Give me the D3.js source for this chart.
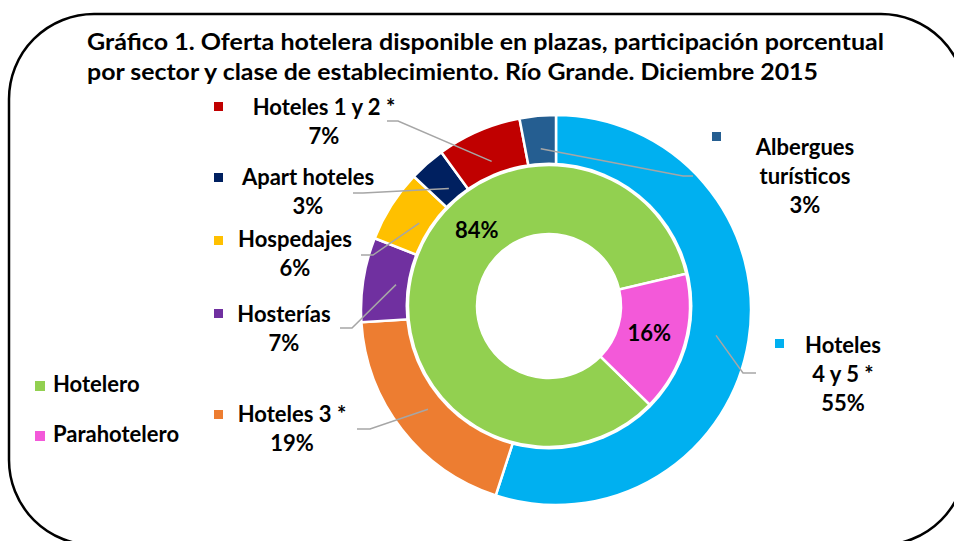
<!DOCTYPE html>
<html>
<head>
<meta charset="utf-8">
<script src="https://cdn.jsdelivr.net/npm/d3@7"></script>
<style>
  body { margin: 0; background: #fff; }
  svg { display: block; font-family: "Lato", "Carlito", "Calibri", sans-serif; font-weight: bold; }
</style>
</head>
<body>
<div id="chart"></div>
<script>
const titleLines = [
  "Gráfico 1. Oferta hotelera disponible en plazas, participación porcentual",
  "por sector y clase de establecimiento. Río Grande. Diciembre 2015"
];

// outer ring: clase de establecimiento
const outerCats = ["Hoteles 4 y 5 *", "Hoteles 3 *", "Hosterías", "Hospedajes", "Apart hoteles", "Hoteles 1 y 2 *", "Albergues turísticos"];
const outerValues = [55, 19, 7, 6, 3, 7, 3];
const outerLabelLines = [["Hoteles", "4 y 5 *"], ["Hoteles 3 *"], ["Hosterías"], ["Hospedajes"], ["Apart hoteles"], ["Hoteles 1 y 2 *"], ["Albergues", "turísticos"]];
const outerColors = ["#00b0f0", "#ed7d31", "#7030a0", "#ffc000", "#002060", "#c00000", "#255e91"];

// inner ring: sector
const innerCats = ["Hotelero", "Parahotelero"];
const innerValues = [84, 16];
const innerColors = ["#92d050", "#f359d9"];

const width = 954, height = 541;
const outerCenter = { x: 556, y: 310 };
const innerCenter = { x: 549, y: 306 };
const rOuter = 195, rInnerOut = 141, rHole = 72;
const deg = Math.PI / 180;

// callout layout (marker, text centre, leader line end / elbow)
const callouts = [
  { mx: 775, my: 339, cx: 843, y0: 353, ex: 756, ey: 373, kx: 743 },
  { mx: 214, my: 410, cx: 292, y0: 422, ex: 357, ey: 429, kx: 370 },
  { mx: 214, my: 309, cx: 284, y0: 322, ex: 340, ey: 328, kx: 352 },
  { mx: 214, my: 236, cx: 295, y0: 247, ex: 361, ey: 255, kx: 373 },
  { mx: 214, my: 173, cx: 308, y0: 185, ex: 353, ey: 193, kx: 363 },
  { mx: 214, my: 102, cx: 324, y0: 115, ex: 387, ey: 121, kx: 398 },
  { mx: 712, my: 132, cx: 805, y0: 155, ex: 693, ey: 176, kx: 683 }
];
const lineH = 29;
const labelSize = "22px";

const svg = d3.select("#chart").append("svg")
  .attr("width", width)
  .attr("height", height);

// rounded frame, runs off the right and bottom edge
svg.append("rect")
  .attr("x", 9).attr("y", 14)
  .attr("width", 957).attr("height", 531)
  .attr("rx", 85).attr("ry", 85)
  .attr("fill", "#fff")
  .attr("stroke", "#000")
  .attr("stroke-width", 2.5);

svg.selectAll(".title")
  .data(titleLines)
  .enter().append("text")
  .attr("class", "title")
  .attr("x", 87)
  .attr("y", (d, i) => 50 + i * 30)
  .attr("textLength", (d, i) => i === 0 ? 797 : 731)
  .attr("lengthAdjust", "spacingAndGlyphs")
  .style("font-size", "22px")
  .text(d => d);

// outer ring as a full pie, inner ring drawn on top
const outerPie = d3.pie().sort(null).value(d => d)(outerValues);
const outerArc = d3.arc().innerRadius(0).outerRadius(rOuter);

const gOuter = svg.append("g")
  .attr("transform", `translate(${outerCenter.x},${outerCenter.y})`);

gOuter.selectAll("path")
  .data(outerPie)
  .enter().append("path")
  .attr("d", outerArc)
  .attr("fill", (d, i) => outerColors[i])
  .attr("stroke", "#fff")
  .attr("stroke-width", 2.5);

const gInner = svg.append("g")
  .attr("transform", `translate(${innerCenter.x},${innerCenter.y})`);

gInner.append("circle")
  .attr("r", rInnerOut + 2.5)
  .attr("fill", "#fff");

const innerPie = d3.pie().sort(null).value(d => d)
  .startAngle(134.4 * deg).endAngle(134.4 * deg + 2 * Math.PI)(innerValues);
const innerArc = d3.arc().innerRadius(rHole).outerRadius(rInnerOut);

gInner.selectAll("path")
  .data(innerPie)
  .enter().append("path")
  .attr("d", innerArc)
  .attr("fill", (d, i) => innerColors[i])
  .attr("stroke", "#fff")
  .attr("stroke-width", 2.5);

// inner labels (84% sits higher than the centroid in the original)
const innerLabelAngle = [316 * deg, null];
gInner.selectAll(".inner-label")
  .data(innerPie)
  .enter().append("text")
  .attr("class", "inner-label")
  .attr("text-anchor", "middle")
  .attr("transform", (d, i) => {
    const a = innerLabelAngle[i] != null ? innerLabelAngle[i] : (d.startAngle + d.endAngle) / 2;
    const p = d3.pointRadial(a, 104);
    return `translate(${p[0]},${p[1] + 7})`;
  })
  .style("font-size", labelSize)
  .text(d => d.data + "%");

// leader lines
const leader = d3.line();
svg.selectAll(".leader")
  .data(outerPie)
  .enter().append("path")
  .attr("class", "leader")
  .attr("d", (d, i) => {
    const p = d3.pointRadial((d.startAngle + d.endAngle) / 2, 162);
    const c = callouts[i];
    return leader([[outerCenter.x + p[0], outerCenter.y + p[1]], [c.kx, c.ey], [c.ex, c.ey]]);
  })
  .attr("fill", "none")
  .attr("stroke", "#a6a6a6")
  .attr("stroke-width", 1.5);

// callouts: marker + name + percentage
const callG = svg.selectAll(".callout")
  .data(outerPie)
  .enter().append("g")
  .attr("class", "callout");

callG.append("rect")
  .attr("x", (d, i) => callouts[i].mx)
  .attr("y", (d, i) => callouts[i].my)
  .attr("width", 9).attr("height", 9)
  .attr("fill", (d, i) => outerColors[i]);

callG.each(function (d, i) {
  const c = callouts[i];
  const lines = outerLabelLines[i].concat([d.data + "%"]);
  d3.select(this).selectAll("text")
    .data(lines)
    .enter().append("text")
    .attr("x", c.cx)
    .attr("y", (t, j) => c.y0 + j * lineH)
    .attr("text-anchor", "middle")
    .style("font-size", labelSize)
    .text(t => t);
});

// legend for the inner ring
const legend = svg.selectAll(".legend")
  .data(innerCats)
  .enter().append("g")
  .attr("class", "legend")
  .attr("transform", (d, i) => `translate(35,${381 + i * 50})`);

legend.append("rect")
  .attr("width", 10).attr("height", 10)
  .attr("fill", (d, i) => innerColors[i]);

legend.append("text")
  .attr("x", 18)
  .attr("y", 11)
  .style("font-size", labelSize)
  .text(d => d);
</script>
</body>
</html>
